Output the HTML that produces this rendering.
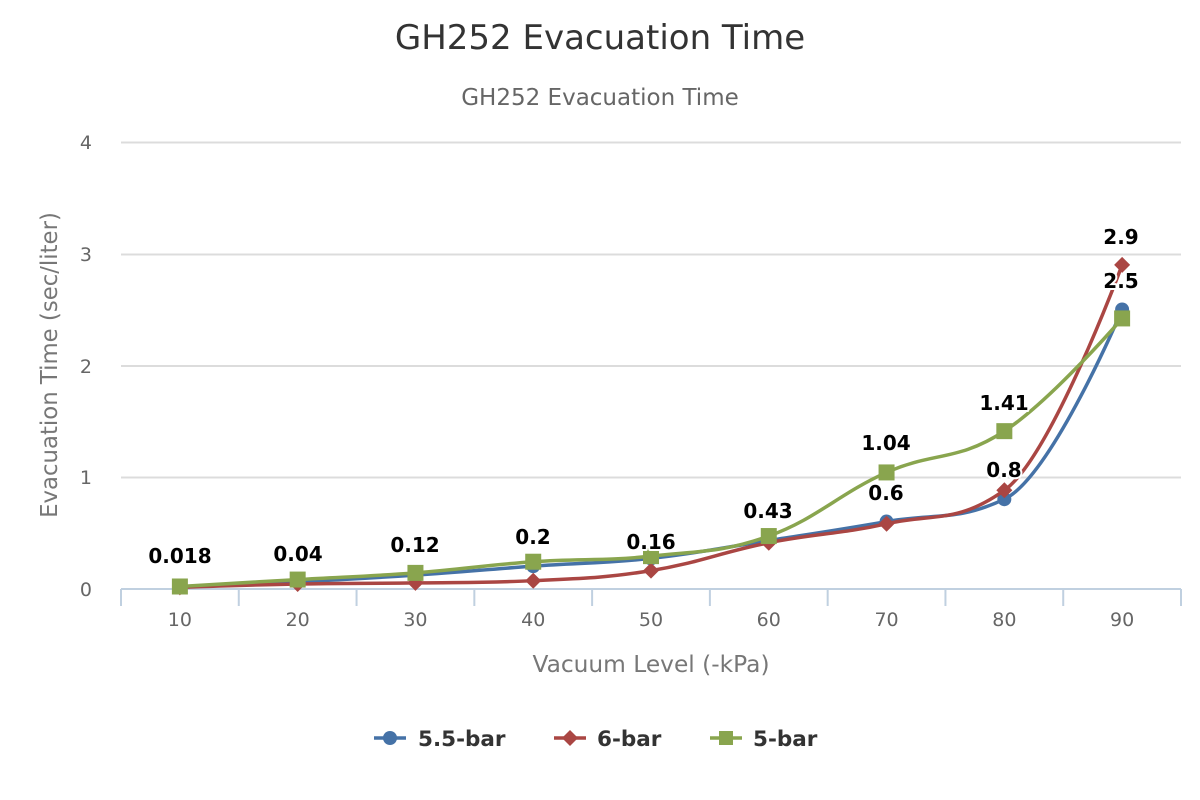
<!DOCTYPE html>
<html><head><meta charset="utf-8"><style>
html,body{margin:0;padding:0;background:#fff;}
svg{display:block;font-family:"DejaVu Sans","Liberation Sans",sans-serif;}
.dl{font-size:20px;font-weight:bold;fill:#000;stroke:#fff;stroke-width:4px;stroke-linejoin:round;paint-order:stroke;text-anchor:middle;}
.xl{font-size:19px;fill:#666;text-anchor:middle;}
.yl{font-size:19px;fill:#666;text-anchor:end;}
</style></head><body>
<svg id="c" width="1200" height="800" viewBox="0 0 1200 800" xmlns="http://www.w3.org/2000/svg">
<rect width="1200" height="800" fill="#fff"/>
<text x="600" y="49" text-anchor="middle" font-size="34" fill="#333">GH252 Evacuation Time</text>
<text x="600" y="105" text-anchor="middle" font-size="23" fill="#666">GH252 Evacuation Time</text>
<g stroke="#dcdcdc" stroke-width="2">
<line x1="121" y1="142.5" x2="1181" y2="142.5"/>
<line x1="121" y1="254.5" x2="1181" y2="254.5"/>
<line x1="121" y1="366" x2="1181" y2="366"/>
<line x1="121" y1="477.5" x2="1181" y2="477.5"/>
</g>
<g stroke="#c0d0e0" stroke-width="2" id="xaxis">
<line x1="121" y1="589" x2="1181" y2="589"/>
</g>
<g class="yl">
<text x="92" y="149">4</text>
<text x="92" y="261">3</text>
<text x="92" y="373">2</text>
<text x="92" y="484">1</text>
<text x="92" y="596">0</text>
</g>
<g class="xl" id="xlabels"></g>
<text transform="translate(57,365) rotate(-90)" text-anchor="middle" font-size="22.8" fill="#777">Evacuation Time (sec/liter)</text>
<text x="651" y="672" text-anchor="middle" font-size="23.3" fill="#777">Vacuum Level (-kPa)</text>
<g id="series"></g>
<g id="labels">
<text class="dl" x="180" y="563">0.018</text>
<text class="dl" x="298" y="561">0.04</text>
<text class="dl" x="415" y="552">0.12</text>
<text class="dl" x="533" y="544">0.2</text>
<text class="dl" x="651" y="549">0.16</text>
<text class="dl" x="768" y="518">0.43</text>
<text class="dl" x="886" y="500">0.6</text>
<text class="dl" x="886" y="450">1.04</text>
<text class="dl" x="1004" y="477">0.8</text>
<text class="dl" x="1004" y="410">1.41</text>
<text class="dl" x="1121" y="244">2.9</text>
<text class="dl" x="1121" y="288">2.5</text>
</g>
<g id="legend" font-size="21.5" font-weight="bold" fill="#333">
<line x1="374" y1="738" x2="406" y2="738" stroke="#4572A7" stroke-width="3.5"/>
<circle cx="390" cy="738" r="7" fill="#4572A7"/>
<text x="418" y="746">5.5-bar</text>
<line x1="554" y1="738" x2="586" y2="738" stroke="#AA4643" stroke-width="3.5"/>
<path d="M570 730 L578 738 L570 746 L562 738 Z" fill="#AA4643"/>
<text x="597" y="746">6-bar</text>
<line x1="710" y1="738" x2="742" y2="738" stroke="#89A54E" stroke-width="3.5"/>
<rect x="719" y="731" width="14" height="14" fill="#89A54E"/>
<text x="753" y="746">5-bar</text>
</g>
</svg>
<script>
(function(){
var NS="http://www.w3.org/2000/svg";
function el(n,a,p){var e=document.createElementNS(NS,n);for(var k in a)e.setAttribute(k,a[k]);if(p)p.appendChild(e);return e;}
var ax=document.getElementById('xaxis');
var cw=1060/9;
for(var i=0;i<=9;i++){var x=121+cw*i;el('line',{x1:x,y1:589,x2:x,y2:606},ax);}
var xl=document.getElementById('xlabels');
var xs=[];
for(var i=0;i<9;i++){xs.push(121+cw*(i+0.5));var t=el('text',{x:xs[i],y:626},xl);t.textContent=String((i+1)*10);}
function Y(v){return 588.5-v*111.6;}
var data=[
 {c:'#4572A7',m:'circle',v:[0.018,0.06,0.12,0.2,0.27,0.43,0.6,0.8,2.5]},
 {c:'#AA4643',m:'diamond',v:[0.01,0.04,0.05,0.07,0.16,0.41,0.58,0.88,2.9]},
 {c:'#89A54E',m:'square',v:[0.018,0.08,0.14,0.24,0.29,0.47,1.04,1.41,2.42]}
];
var g=document.getElementById('series');
data.forEach(function(s){
 var pts=s.v.map(function(v,i){return {x:xs[i],y:Y(v)};});
 var d='';
 var sm=1.5,den=2.5;
 for(var i=0;i<pts.length;i++){
  var p=pts[i],lp=pts[i-1],np=pts[i+1];
  var lcx=null,lcy=null,rcx=null,rcy=null;
  if(lp&&np){
   lcx=(sm*p.x+lp.x)/den;lcy=(sm*p.y+lp.y)/den;
   rcx=(sm*p.x+np.x)/den;rcy=(sm*p.y+np.y)/den;
   var corr=((rcy-lcy)*(rcx-p.x))/(rcx-lcx)+p.y-rcy;
   lcy+=corr;rcy+=corr;
   if(lcy>lp.y&&lcy>p.y){lcy=Math.max(lp.y,p.y);rcy=2*p.y-lcy;}
   else if(lcy<lp.y&&lcy<p.y){lcy=Math.min(lp.y,p.y);rcy=2*p.y-lcy;}
   if(rcy>np.y&&rcy>p.y){rcy=Math.max(np.y,p.y);lcy=2*p.y-rcy;}
   else if(rcy<np.y&&rcy<p.y){rcy=Math.min(np.y,p.y);lcy=2*p.y-rcy;}
   p.rcx=rcx;p.rcy=rcy;
  }
  if(!i){d+='M'+p.x+' '+p.y;}
  else{
   var a1=lp.rcx!=null?lp.rcx:lp.x,b1=lp.rcy!=null?lp.rcy:lp.y;
   var a2=lcx!=null?lcx:p.x,b2=lcy!=null?lcy:p.y;
   d+=' C'+a1+' '+b1+' '+a2+' '+b2+' '+p.x+' '+p.y;
  }
 }
 el('path',{d:d,fill:'none',stroke:s.c,'stroke-width':3.5,'stroke-linejoin':'round','stroke-linecap':'round'},g);
 pts.forEach(function(p){
  if(s.m=='circle')el('circle',{cx:p.x,cy:p.y,r:7,fill:s.c},g);
  else if(s.m=='diamond')el('path',{d:'M'+p.x+' '+(p.y-8)+' L'+(p.x+8)+' '+p.y+' L'+p.x+' '+(p.y+8)+' L'+(p.x-8)+' '+p.y+' Z',fill:s.c},g);
  else el('rect',{x:p.x-8,y:p.y-8,width:16,height:16,fill:s.c},g);
 });
});
})();
</script>
</body></html>
